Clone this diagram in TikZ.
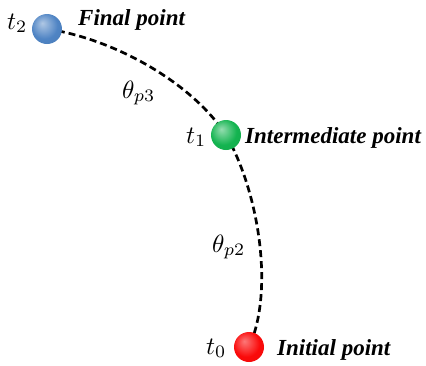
\documentclass[tikz,border=0pt]{standalone}
\usepackage{graphicx}
\usepackage{fontspec}
\setmainfont{Liberation Serif}
\definecolor{bl}{RGB}{79,132,196}
\definecolor{gr}{RGB}{20,180,80}
\definecolor{rd}{RGB}{250,10,10}
\pgfdeclareradialshading{blueball}{\pgfpoint{-8bp}{10bp}}{color(0bp)=(bl!45!white); color(22bp)=(bl); color(42bp)=(bl!92!black); color(50bp)=(bl!75!black)}
\pgfdeclareradialshading{greenball}{\pgfpoint{-8bp}{10bp}}{color(0bp)=(gr!45!white); color(22bp)=(gr); color(42bp)=(gr!92!black); color(50bp)=(gr!75!black)}
\pgfdeclareradialshading{redball}{\pgfpoint{-8bp}{10bp}}{color(0bp)=(rd!55!white); color(22bp)=(rd); color(42bp)=(rd!95!black); color(50bp)=(rd!80!black)}
\newcommand{\mlbl}[1]{\scalebox{2.5}{$#1$}}
\begin{document}
\begin{tikzpicture}[x=1pt,y=-1pt,
  ballnode/.style={circle,minimum size=30pt,inner sep=0pt},
  lbl/.style={inner sep=0pt,anchor=base west,font=\fontsize{23}{26}\selectfont\bfseries\itshape},
  tlbl/.style={inner sep=0pt,anchor=base west},
  path/.style={line width=2.7pt,dash pattern=on 7pt off 4pt,black}]
\useasboundingbox (0,0) rectangle (426,365);
\coordinate (b) at (47,29);
\coordinate (g) at (226,135);
\coordinate (r) at (249,347);
\draw[path] (b) .. controls (110,38) and (190,80) .. (g);
\draw[path] (g) .. controls (258,190) and (275,290) .. (r);
\node[ballnode,shading=blueball] (blue) at (b) {};
\node[ballnode,shading=greenball] (green) at (g) {};
\node[ballnode,shading=redball] (red) at (r) {};
\node[lbl] (fin) at (78,25) {Final point};
\node[lbl] (mid) at (245,143) {Intermediate point};
\node[lbl] (ini) at (277,355) {Initial point};
\node[tlbl] (t2) at (7,29) {\mlbl{t_2}};
\node[tlbl] (t1) at (186,143) {\mlbl{t_1}};
\node[tlbl] (t0) at (206,354) {\mlbl{t_0}};
\node[tlbl] (th3) at (122,98) {\mlbl{\theta_{p3}}};
\node[tlbl] (th2) at (212,252) {\mlbl{\theta_{p2}}};
\end{tikzpicture}
\end{document}
